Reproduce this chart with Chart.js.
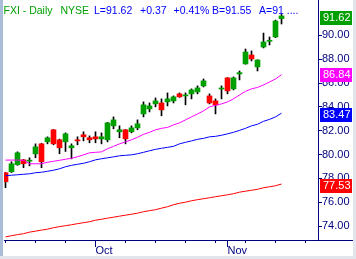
<!DOCTYPE html>
<html lang="en">
<head>
<meta charset="UTF-8">
<title>FXI - Daily</title>
<script src="https://cdn.jsdelivr.net/npm/chart.js"></script>
<style>
  html, body { margin: 0; padding: 0; background: #fff; overflow: hidden; }
  #wrap { position: relative; width: 356px; height: 259px; }
  #chart { position: absolute; left: 0; top: 0; }
  .edge { position: absolute; }
  #edge-left { left: 0; top: 0; width: 3px; height: 259px; background: #a9bcd8; }
  #edge-right { right: 0; top: 0; width: 3px; height: 259px; background: #e2e5ec; }
  #edge-bottom { left: 0; bottom: 0; width: 356px; height: 3px; background: #e2e5ec; }
</style>
</head>
<body>
<div id="wrap">
  <canvas id="chart" width="356" height="259"></canvas>
  <div class="edge" id="edge-left"></div>
  <div class="edge" id="edge-right"></div>
  <div class="edge" id="edge-bottom"></div>
</div>
<script>
// daily bars, index 0 = first visible session
const opens  = [78.48, 78.56, 79.15, 79.56, 79.45, 80.06, 80.90, 81.07, 82.08, 81.24,
                81.07, 80.57, 81.24, 81.66, 81.41, 81.49, 81.32, 81.24, 82.41, 81.91,
                82.08, 81.91, 82.24, 83.41, 83.83, 84.25, 84.33, 84.42, 84.50, 85.09,
                84.92, 85.09, 85.26, 85.76, 84.92, 84.50, 85.50, 86.43, 85.51, 86.76,
                87.60, 88.35, 87.35, 89.02, 89.50, 89.86, 91.40];
const highs  = [78.50, 79.40, 80.23, 79.60, 79.73, 80.90, 80.95, 81.49, 82.10, 81.30,
                81.82, 80.90, 81.49, 81.91, 81.57, 81.91, 81.82, 82.70, 83.16, 82.41,
                82.10, 82.41, 82.91, 84.42, 84.33, 84.75, 84.67, 85.17, 84.92, 85.17,
                85.17, 85.51, 85.76, 86.34, 85.09, 84.67, 85.76, 86.45, 86.51, 87.01,
                88.85, 88.69, 87.95, 90.19, 89.86, 91.28, 91.75];
const lows   = [77.22, 78.50, 79.10, 78.90, 79.06, 79.73, 78.90, 80.90, 80.82, 80.07,
                80.26, 79.64, 80.82, 81.15, 80.99, 80.99, 80.90, 81.07, 82.16, 81.41,
                80.90, 81.82, 82.08, 83.16, 83.58, 84.00, 83.25, 84.08, 84.33, 84.80,
                84.17, 84.67, 85.09, 85.67, 84.25, 83.41, 84.67, 85.09, 85.42, 86.26,
                87.58, 87.85, 87.01, 88.94, 89.19, 89.80, 90.95];
const closes = [77.72, 79.23, 80.15, 79.23, 79.50, 80.65, 79.40, 81.41, 80.90, 80.57,
                81.74, 80.74, 81.15, 81.49, 81.24, 81.32, 81.49, 82.66, 82.91, 82.08,
                81.32, 82.24, 82.58, 84.17, 84.08, 84.50, 83.75, 84.67, 84.84, 84.84,
                85.00, 85.42, 85.59, 86.18, 84.33, 84.17, 85.55, 85.34, 86.43, 86.87,
                88.60, 88.02, 87.93, 89.44, 89.58, 91.20, 91.62];

// moving averages
const ma20  = [79.54, 79.54, 79.54, 79.52, 79.23, 79.23, 79.23, 79.36, 79.44, 79.52,
               79.61, 79.69, 79.82, 79.98, 80.15, 80.19, 80.23, 80.49, 80.69, 80.90,
               81.07, 81.24, 81.45, 81.70, 81.87, 82.08, 82.20, 82.28, 82.49, 82.66,
               82.91, 83.16, 83.41, 83.66, 84.00, 84.13, 84.25, 84.42, 84.67, 85.00,
               85.30, 85.51, 85.63, 85.84, 86.09, 86.34, 86.70];
const ma50  = [78.23, 78.27, 78.31, 78.35, 78.39, 78.48, 78.52, 78.60, 78.69, 78.81,
               78.98, 79.10, 79.19, 79.27, 79.40, 79.56, 79.65, 79.73, 79.81, 79.90,
               79.94, 79.98, 80.07, 80.19, 80.32, 80.44, 80.53, 80.61, 80.69, 80.90,
               81.03, 81.15, 81.28, 81.36, 81.49, 81.53, 81.62, 81.74, 81.87, 82.03,
               82.20, 82.41, 82.54, 82.79, 82.95, 83.16, 83.47];
const ma200 = [73.10, 73.20, 73.29, 73.37, 73.50, 73.58, 73.67, 73.75, 73.87, 73.96,
               74.04, 74.12, 74.21, 74.29, 74.37, 74.50, 74.58, 74.67, 74.75, 74.84,
               74.92, 75.00, 75.09, 75.21, 75.30, 75.38, 75.51, 75.63, 75.80, 75.92,
               76.01, 76.13, 76.22, 76.30, 76.38, 76.47, 76.55, 76.63, 76.72, 76.85,
               76.93, 77.01, 77.09, 77.22, 77.30, 77.39, 77.53];

// last-value tags on the price axis
const tagValues = [91.62, 86.84, 83.47, 77.53];

// axis ticks
const yTicks = [74, 76, 78, 80, 82, 84, 86, 88, 90];
const weekTicks = [0, 5, 10, 15, 20, 25, 30, 35, 40, 45, 50];
const monthTicks = [15, 37];
const monthLabels = ['Oct', 'Nov'];

const GREEN = '#00a000', RED = '#ff0000', BLUE = '#0000ff', MAGENTA = '#ff00ff', NAVY = '#000080';
const FONT = '"Liberation Sans", Arial, sans-serif';

const header = [
    { text: 'FXI - Daily', x: 3.5, color: GREEN },
    { text: 'NYSE', x: 60.5, color: GREEN },
    { text: 'L=91.62', x: 94, color: BLUE },
    { text: '+0.37', x: 140, color: BLUE },
    { text: '+0.41%', x: 173.5, color: BLUE },
    { text: 'B=91.55', x: 212, color: BLUE },
    { text: 'A=91 ....', x: 259, color: BLUE }
];

const idx = closes.map((c, i) => i);
const xTicks = [...new Set(weekTicks.concat(monthTicks))].sort((a, b) => a - b);
const candleColors = idx.map(i => closes[i] >= opens[i] ? GREEN : RED);

// header text, longer month ticks, axis line to the frame and the value tags
const overlayPlugin = {
    id: 'overlay',
    afterDraw(chart) {
        const ctx = chart.ctx;
        const area = chart.chartArea;
        const xs = chart.scales.x, ys = chart.scales.y;
        ctx.save();

        ctx.strokeStyle = NAVY;
        ctx.lineWidth = 1;
        ctx.beginPath();
        ctx.moveTo(area.right, area.bottom + 0.5);
        ctx.lineTo(353, area.bottom + 0.5);
        monthTicks.forEach(m => {
            const px = Math.round(xs.getPixelForValue(m)) - 0.5;
            ctx.moveTo(px, area.bottom);
            ctx.lineTo(px, area.bottom + 7);
        });
        ctx.stroke();

        ctx.font = '10.5px ' + FONT;
        ctx.textBaseline = 'alphabetic';
        header.forEach(h => {
            ctx.fillStyle = h.color;
            ctx.fillText(h.text, h.x, 14);
        });

        const tagColors = [GREEN, MAGENTA, BLUE, RED];
        ctx.font = '11px ' + FONT;
        ctx.textBaseline = 'middle';
        tagValues.forEach((v, i) => {
            const py = Math.round(ys.getPixelForValue(v)) + 2;
            ctx.fillStyle = tagColors[i];
            ctx.fillRect(320, py - 7, 32, 14);
            ctx.fillStyle = '#ffffff';
            ctx.fillText(v.toFixed(2), 323, py);
        });
        ctx.restore();
    }
};

const lineSet = (data, color) => ({
    type: 'line',
    data: idx.map(i => ({ x: i, y: data[i] })),
    borderColor: color,
    borderWidth: 1,
    pointRadius: 0,
    tension: 0,
    order: 0
});

new Chart(document.getElementById('chart'), {
    type: 'bar',
    data: {
        datasets: [
            lineSet(ma20, MAGENTA),
            lineSet(ma50, BLUE),
            lineSet(ma200, RED),
            {
                // candle bodies
                data: idx.map(i => ({ x: i, y: [opens[i], closes[i]] })),
                backgroundColor: candleColors,
                borderWidth: 0,
                barThickness: 5,
                minBarLength: 1,
                grouped: false,
                order: 1
            },
            {
                // high-low wicks
                data: idx.map(i => ({ x: i, y: [lows[i], highs[i]] })),
                backgroundColor: '#000000',
                borderWidth: 0,
                barThickness: 1,
                grouped: false,
                order: 2
            }
        ]
    },
    options: {
        responsive: false,
        animation: false,
        layout: { padding: { left: 4, right: 4, top: 0, bottom: 4 } },
        plugins: { legend: { display: false }, tooltip: { enabled: false } },
        scales: {
            x: {
                type: 'linear',
                min: -0.25,
                max: 52.083,
                offset: false,
                afterBuildTicks: s => { s.ticks = xTicks.map(v => ({ value: v })); },
                afterFit: s => { s.height = 15; s.paddingLeft = 0; s.paddingRight = 0; },
                border: { color: NAVY, width: 1 },
                grid: { drawOnChartArea: false, offset: false, tickLength: 3, color: NAVY },
                ticks: {
                    autoSkip: false,
                    maxRotation: 0,
                    align: 'start',
                    padding: 1,
                    color: NAVY,
                    font: { family: FONT, size: 11 },
                    callback: v => {
                        const k = monthTicks.indexOf(v);
                        return k >= 0 ? monthLabels[k] : '';
                    }
                }
            },
            y: {
                position: 'right',
                min: 72.84,
                max: 92.96,
                afterBuildTicks: s => { s.ticks = yTicks.map(v => ({ value: v })); },
                afterFit: s => { s.width = 34; s.paddingTop = 0; s.paddingBottom = 0; },
                border: { color: NAVY, width: 1 },
                grid: { drawOnChartArea: false, tickLength: 4, color: NAVY },
                ticks: {
                    padding: 0,
                    color: NAVY,
                    font: { family: FONT, size: 11 },
                    callback: v => v.toFixed(2)
                }
            }
        }
    },
    plugins: [overlayPlugin]
});
</script>
</body>
</html>
